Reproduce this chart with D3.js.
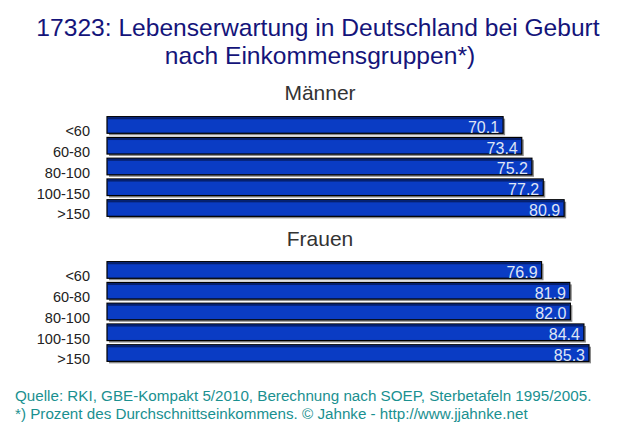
<!DOCTYPE html>
<html>
<head>
<meta charset="utf-8">
<script src="https://cdn.jsdelivr.net/npm/d3@7"></script>
<style>
  body { margin: 0; background: #fff; }
  text { font-family: Arial, "Liberation Sans", sans-serif; }
</style>
</head>
<body>
<div id="chart"></div>
<script>
// data
var groups = ["<60", "60-80", "80-100", "100-150", ">150"]
var maenner = [70.1, 73.4, 75.2, 77.2, 80.9]
var frauen = [76.9, 81.9, 82.0, 84.4, 85.3]

var width = 640, height = 435

var svg = d3.select("#chart")
    .append("svg")
    .attr("width", width)
    .attr("height", height)

// title
svg.append("text")
    .attr("x", 318).attr("y", 36)
    .attr("text-anchor", "middle")
    .style("font-size", "24.6px")
    .style("fill", "#14147a")
    .text("17323: Lebenserwartung in Deutschland bei Geburt")
svg.append("text")
    .attr("x", 320).attr("y", 64)
    .attr("text-anchor", "middle")
    .style("font-size", "24.6px")
    .style("fill", "#14147a")
    .text("nach Einkommensgruppen*)")

// x scale shared by both panels, 0 at the left edge of the bars
var x = d3.scaleLinear()
    .domain([0, 85.3])
    .range([107, 589])

function panel(title, titleY, values, y0) {
    var y = d3.scaleBand()
        .domain(groups)
        .range([y0, y0 + 108])
        .padding(0.2)

    svg.append("text")
        .attr("x", 320).attr("y", titleY)
        .attr("text-anchor", "middle")
        .style("font-size", "21px")
        .style("fill", "#333")
        .text(title)

    var data = groups.map(function (g, i) { return { group: g, value: values[i] } })

    var g = svg.append("g")

    // gray drop shadow
    g.selectAll(".shadow")
        .data(data).enter()
        .append("rect")
        .attr("x", x(0) + 2)
        .attr("y", function (d) { return y(d.group) + 2 })
        .attr("width", function (d) { return x(d.value) - x(0) })
        .attr("height", y.bandwidth())
        .style("fill", "#8a8a8a")

    // bars
    g.selectAll(".bar")
        .data(data).enter()
        .append("rect")
        .attr("x", x(0))
        .attr("y", function (d) { return y(d.group) })
        .attr("width", function (d) { return x(d.value) - x(0) })
        .attr("height", y.bandwidth())
        .style("fill", "#0a3cc4")
        .style("stroke", "#000")
        .style("stroke-width", 1.2)

    // dark top edge (3d look)
    g.selectAll(".edge")
        .data(data).enter()
        .append("rect")
        .attr("x", x(0) + 1)
        .attr("y", function (d) { return y(d.group) + 0.6 })
        .attr("width", function (d) { return x(d.value) - x(0) - 2 })
        .attr("height", 2)
        .style("fill", "#06206e")

    // value labels
    g.selectAll(".val")
        .data(data).enter()
        .append("text")
        .attr("x", function (d) { return x(d.value) - 4 })
        .attr("y", function (d) { return y(d.group) + y.bandwidth() - 0.5 })
        .attr("text-anchor", "end")
        .style("font-size", "16px")
        .style("fill", "#dfe5f5")
        .text(function (d) { return d.value.toFixed(1) })

    // category axis
    var axis = d3.axisLeft(y).tickSize(0).tickPadding(0)
    var ax = svg.append("g")
        .attr("transform", "translate(90,0)")
        .call(axis)
    ax.select(".domain").remove()
    ax.selectAll("text")
        .attr("dy", null)
        .attr("y", y.bandwidth() / 2 + 3)
        .style("font-size", "14.5px")
        .style("font-family", "Arial, 'Liberation Sans', sans-serif")
        .style("fill", "#222")
}

panel("Männer", 100, maenner, 112.5)
panel("Frauen", 246, frauen, 257.5)

// footer
svg.append("text")
    .attr("x", 15).attr("y", 401)
    .style("font-size", "15.2px")
    .style("fill", "#1a9090")
    .text("Quelle: RKI, GBE-Kompakt 5/2010, Berechnung nach SOEP, Sterbetafeln 1995/2005.")
svg.append("text")
    .attr("x", 15).attr("y", 419)
    .style("font-size", "15.2px")
    .style("fill", "#1a9090")
    .text("*) Prozent des Durchschnittseinkommens. © Jahnke - http://www.jjahnke.net")
</script>
</body>
</html>
